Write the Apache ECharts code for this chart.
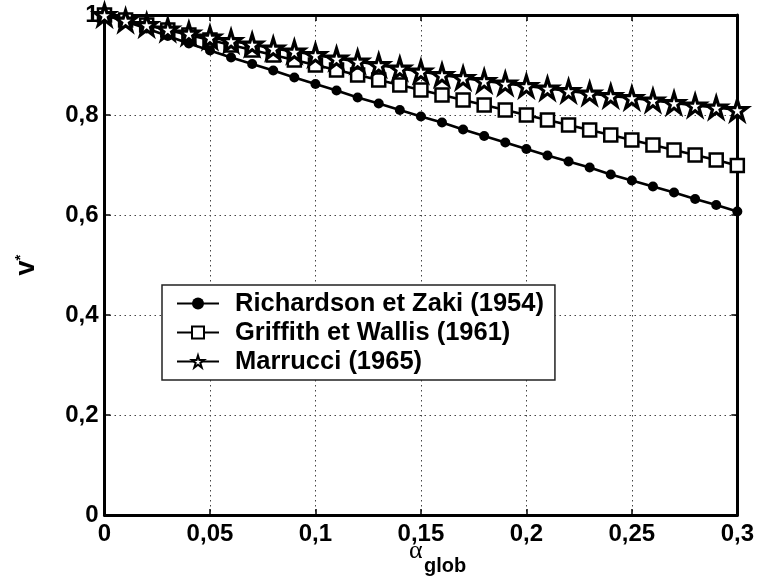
<!DOCTYPE html>
<html>
<head>
<meta charset="utf-8">
<script src="https://cdn.jsdelivr.net/npm/echarts@6/dist/echarts.min.js"></script>
<style>
html,body{margin:0;padding:0;background:#fff;}
#chart{width:757px;height:581px;}
</style>
</head>
<body>
<div id="chart"></div>
<script>
var alphaGlob = [0,0.01,0.02,0.03,0.04,0.05,0.06,0.07,0.08,0.09,0.10,0.11,0.12,0.13,0.14,0.15,0.16,0.17,0.18,0.19,0.20,0.21,0.22,0.23,0.24,0.25,0.26,0.27,0.28,0.29,0.30];
var richardsonZaki = [1.000,0.987,0.973,0.958,0.943,0.929,0.915,0.902,0.889,0.875,0.862,0.849,0.835,0.823,0.810,0.797,0.785,0.771,0.758,0.745,0.732,0.719,0.707,0.695,0.681,0.669,0.657,0.645,0.632,0.620,0.607];
var griffithWallis = [1.000,0.990,0.980,0.970,0.960,0.950,0.940,0.930,0.920,0.910,0.900,0.890,0.880,0.870,0.860,0.850,0.840,0.830,0.820,0.810,0.800,0.790,0.780,0.770,0.760,0.750,0.740,0.730,0.720,0.710,0.699];
var marrucci = [1.000,0.989,0.980,0.971,0.963,0.955,0.948,0.941,0.933,0.927,0.920,0.913,0.907,0.900,0.893,0.887,0.880,0.874,0.868,0.863,0.858,0.853,0.848,0.843,0.838,0.834,0.829,0.824,0.819,0.815,0.810];
var seriesNames = ['Richardson et Zaki (1954)','Griffith et Wallis (1961)','Marrucci (1965)'];
var xTickValues = [0,0.05,0.1,0.15,0.2,0.25,0.3];
var xTickLabels = ['0','0,05','0,1','0,15','0,2','0,25','0,3'];
var yTickValues = [0,0.2,0.4,0.6,0.8,1];
var yTickLabels = ['0','0,2','0,4','0,6','0,8','1'];

function pairs(ys){ return alphaGlob.map(function(x,i){ return [x, ys[i]]; }); }
function lookup(vals, labels){
  return function(v){
    for (var i=0;i<vals.length;i++){ if (Math.abs(vals[i]-v)<1e-6) return labels[i]; }
    return '';
  };
}
var FONT = 'Liberation Sans';
var starPath = 'path://M50,0 L61.2,34.5 L97.6,34.5 L68.2,55.9 L79.4,90.5 L50,69.1 L20.6,90.5 L31.8,55.9 L2.4,34.5 L38.8,34.5 Z';

var chart = echarts.init(document.getElementById('chart'), null, {renderer:'canvas'});
var axisLine = {show:true, onZero:false, lineStyle:{color:'#000', width:3}};
var ticks = {show:true, inside:true, length:6, lineStyle:{color:'#000', width:1.5}};
var split = {show:true, lineStyle:{color:'#444', width:1, type:[1.5,3.5]}};
var option = {
  backgroundColor:'#fff',
  animation:false,
  grid:{left:104.5, right:17, top:15, bottom:66, containLabel:false},
  xAxis:[{
    type:'value', min:0, max:0.3, interval:0.05, position:'bottom',
    axisLine:axisLine, axisTick:ticks, splitLine:split,
    axisLabel:{formatter:lookup(xTickValues,xTickLabels), color:'#000', fontFamily:FONT, fontWeight:'bold', fontSize:24, margin:7}
  },{
    type:'value', min:0, max:0.3, interval:0.05, position:'top',
    axisLine:axisLine, axisTick:ticks, splitLine:{show:false}, axisLabel:{show:false}
  }],
  yAxis:[{
    type:'value', min:0, max:1, interval:0.2, position:'left',
    axisLine:axisLine, axisTick:ticks, splitLine:split,
    axisLabel:{formatter:lookup(yTickValues,yTickLabels), color:'#000', fontFamily:FONT, fontWeight:'bold', fontSize:24, margin:6},
    name:'{v|v}{s|*}', nameLocation:'middle', nameRotate:90, nameGap:64,
    nameTextStyle:{rich:{
      v:{fontFamily:FONT, fontWeight:'bold', fontSize:27, color:'#000', verticalAlign:'bottom'},
      s:{fontFamily:FONT, fontWeight:'bold', fontSize:15, color:'#000', verticalAlign:'top'}
    }}
  },{
    type:'value', min:0, max:1, interval:0.2, position:'right',
    axisLine:axisLine, axisTick:ticks, splitLine:{show:false}, axisLabel:{show:false}
  }],
  legend:{
    orient:'vertical', left:162, top:285,
    data:seriesNames,
    backgroundColor:'#fff',
    borderColor:'#222', borderWidth:1.5,
    padding:[4,11,4,14],
    itemWidth:42, itemHeight:15, itemGap:0,
    textStyle:{fontFamily:FONT, fontWeight:'bold', fontSize:25.5, color:'#000', lineHeight:29, padding:[0,0,0,11]}
  },
  graphic:[
    {type:'text', left:409, top:538, style:{text:'α', font:'normal 26px "Liberation Serif"', fill:'#000'}},
    {type:'text', left:424, top:556, style:{text:'glob', font:'bold 20px "Liberation Sans"', fill:'#000'}}
  ],
  series:[{
    name:seriesNames[0], type:'line', data:pairs(richardsonZaki),
    symbol:'circle', symbolSize:10, showSymbol:true, clip:false,
    lineStyle:{color:'#000', width:2.5},
    itemStyle:{color:'#000', borderColor:'#000', borderWidth:0}
  },{
    name:seriesNames[1], type:'line', data:pairs(griffithWallis),
    symbol:'rect', symbolSize:13, showSymbol:true, clip:false,
    lineStyle:{color:'#000', width:2.5},
    itemStyle:{color:'#fff', borderColor:'#000', borderWidth:2.5}
  },{
    name:seriesNames[2], type:'line', data:pairs(marrucci),
    symbol:starPath, symbolSize:20, showSymbol:true, clip:false,
    lineStyle:{color:'#000', width:2.5},
    itemStyle:{color:'#fff', borderColor:'#000', borderWidth:3.2}
  }]
};
chart.setOption(option);
</script>
</body>
</html>
